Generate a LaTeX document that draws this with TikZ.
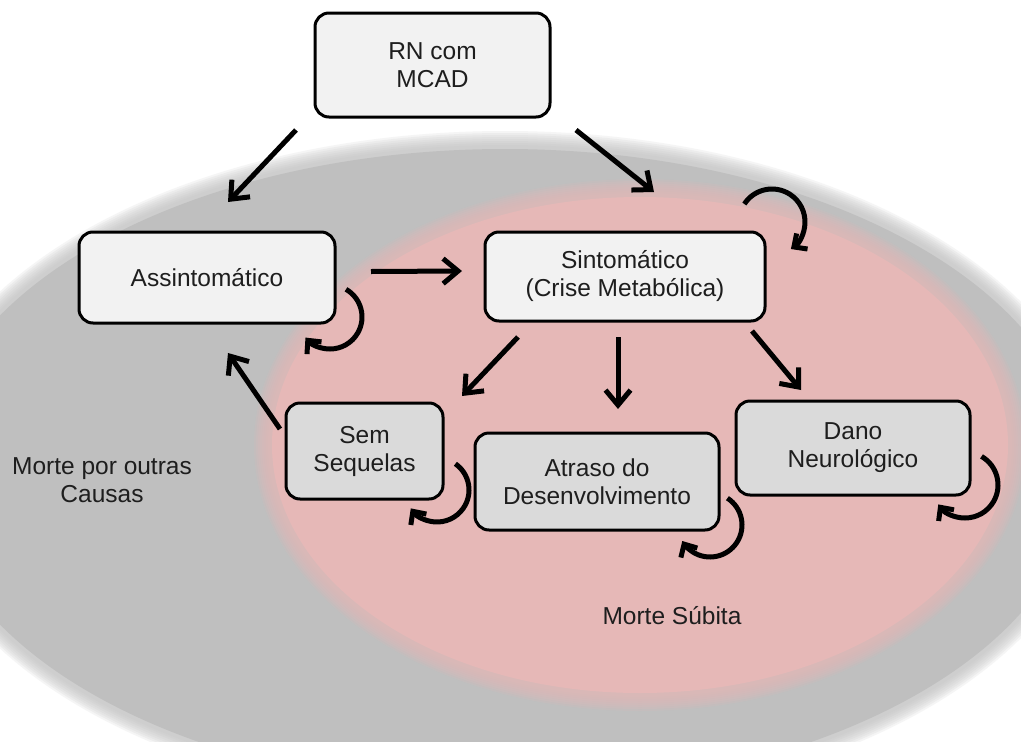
\documentclass[tikz,border=0pt]{standalone}
\usepackage{fontspec}
\setmainfont{Liberation Sans}
\usetikzlibrary{arrows.meta}
\definecolor{bggrey}{RGB}{191,191,191}
\definecolor{bgpink}{RGB}{230,184,183}
\definecolor{boxtop}{RGB}{242,242,242}
\definecolor{boxlow}{RGB}{218,218,218}
\definecolor{txt}{RGB}{30,30,30}
\begin{document}
\begin{tikzpicture}[x=1pt,y=1pt,
  box/.style={draw=black, line width=3pt, rounded corners=14pt, align=center,
    inner sep=0pt, outer sep=0pt, text=txt, font=\fontsize{24.5}{28}\selectfont},
  topbox/.style={box, fill=boxtop},
  lowbox/.style={box, fill=boxlow},
  lbl/.style={align=center, text=txt, font=\fontsize{24.5}{28}\selectfont},
  arr/.style={line width=5pt, -{Straight Barb[length=15pt,width=25pt]}},
  selfloop/.style={line width=5pt, -{Straight Barb[length=10pt,width=19pt]}}
]
\useasboundingbox (0,0) rectangle (1021,-742);
\clip (0,0) rectangle (1021,-742);
\fill[white] (0,0) rectangle (1021,-742);
% grey ellipse with soft edge
\foreach \d in {14,12,10,8,6,4,2,0}{
  \fill[bggrey, opacity=0.15] (505,-470) ellipse [x radius=580+\d, y radius=325+\d];
}
\fill[bggrey] (505,-470) ellipse [x radius=576, y radius=321];
% pink ellipse with soft edge
\foreach \d in {14,12,10,8,6,4,2,0}{
  \fill[bgpink, opacity=0.15] (640,-445) ellipse [x radius=372+\d, y radius=252+\d];
}
\fill[bgpink] (640,-445) ellipse [x radius=368, y radius=248];

% nodes
\node[topbox, minimum width=235pt, minimum height=104pt] (rn) at (432.5,-65) {RN com\\MCAD};
\node[topbox, minimum width=256pt, minimum height=91pt] (assint) at (207,-277.5) {Assintomático};
\node[topbox, minimum width=280pt, minimum height=89pt] (sintom) at (625,-276.5) {Sintomático\\(Crise Metabólica)};
\node[lowbox, minimum width=157pt, minimum height=96pt] (sem) at (364.5,-451) {Sem\\Sequelas};
\node[lowbox, minimum width=244pt, minimum height=97pt] (atraso) at (597,-481.5) {Atraso do\\Desenvolvimento};
\node[lowbox, minimum width=234pt, minimum height=94pt] (dano) at (853,-448) {Dano\\Neurológico};
\node[lbl] (outras) at (102,-480) {Morte por outras\\Causas};
\node[lbl] (subita) at (672,-616) {Morte Súbita};

% connectors
\draw[arr] ([shift={(-19,-13)}]rn.south west) -- ([shift={(21,30)}]assint.north);
\draw[arr] ([shift={(26,-13)}]rn.south east) -- ([shift={(29,40)}]sintom.north);
\draw[arr] ([shift={(36,6)}]assint.east) -- ([shift={(-23,5.5)}]sintom.west);
\draw[arr] ([shift={(-107,-16)}]sintom.south) -- ([shift={(97.5,7)}]sem.north);
\draw[arr] ([shift={(-7,-16)}]sintom.south) -- ([shift={(21,24)}]atraso.north);
\draw[arr] ([shift={(-13,-10)}]sintom.south east) -- ([shift={(-52,11)}]dano.north);
\draw[arr] ([shift={(-6,22)}]sem.west) -- ([shift={(21,-30)}]assint.south);

% self loops
\draw[selfloop] ([shift={(-5,6)}]assint.south east) ++(60:32) arc[start angle=60, end angle=-140, radius=32];
\draw[selfloop] ([shift={(7,10)}]sintom.north east) ++(147:33) arc[start angle=147, end angle=-55, radius=33];
\draw[selfloop] ([shift={(-6,9)}]sem.south east) ++(55:32) arc[start angle=55, end angle=-145, radius=32];
\draw[selfloop] ([shift={(-9,5)}]atraso.south east) ++(57:32) arc[start angle=57, end angle=-150, radius=32];
\draw[selfloop] ([shift={(-5,10)}]dano.south east) ++(60:33) arc[start angle=60, end angle=-144, radius=33];
\end{tikzpicture}
\end{document}
